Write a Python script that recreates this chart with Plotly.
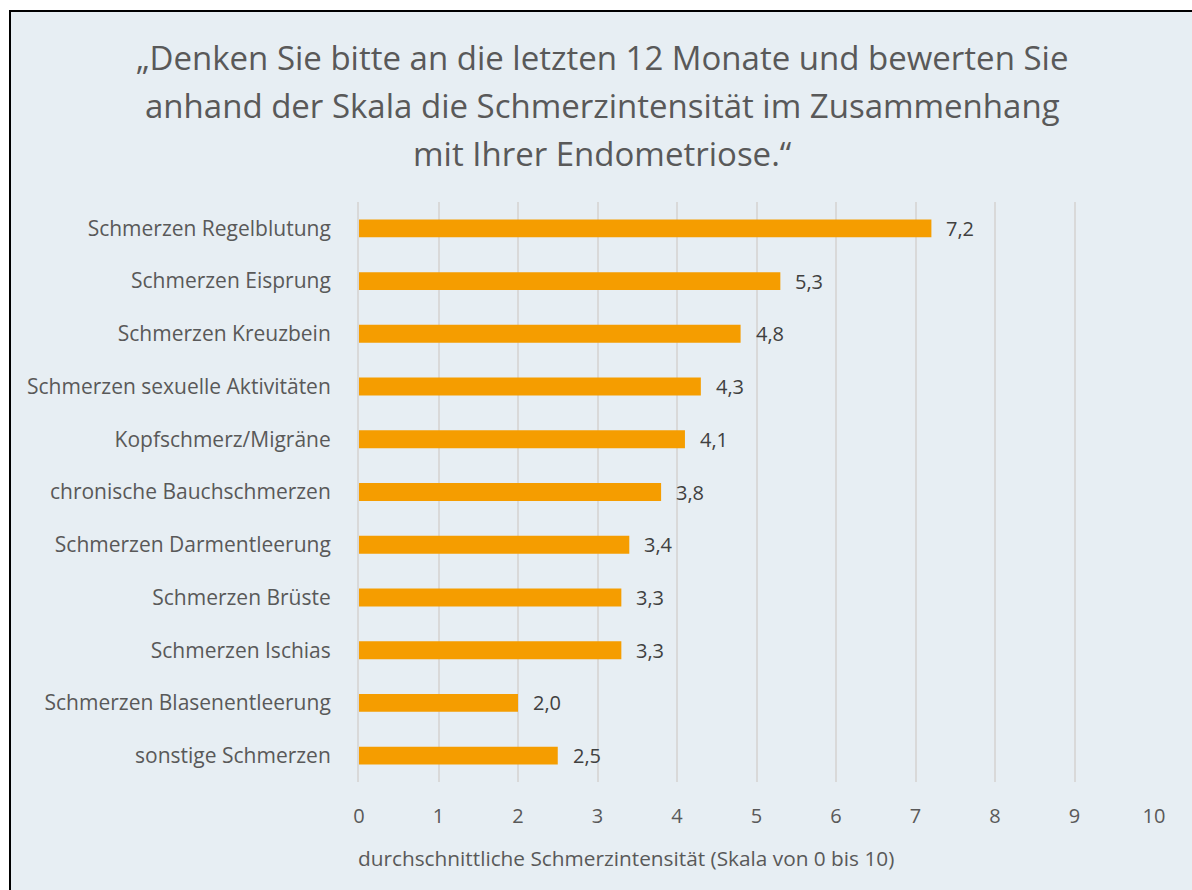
import plotly.graph_objects as go

# Pain categories (top to bottom) and mean intensity on a 0–10 scale
categories = [
    "Schmerzen Regelblutung",
    "Schmerzen Eisprung",
    "Schmerzen Kreuzbein",
    "Schmerzen sexuelle Aktivitäten",
    "Kopfschmerz/Migräne",
    "chronische Bauchschmerzen",
    "Schmerzen Darmentleerung",
    "Schmerzen Brüste",
    "Schmerzen Ischias",
    "Schmerzen Blasenentleerung",
    "sonstige Schmerzen",
]
values = [7.2, 5.3, 4.8, 4.3, 4.1, 3.8, 3.4, 3.3, 3.3, 2.0, 2.5]
x_ticks = [0, 1, 2, 3, 4, 5, 6, 7, 8, 9, 10]

title_lines = [
    "„Denken Sie bitte an die letzten 12 Monate und bewerten Sie",
    "anhand der Skala die Schmerzintensität im Zusammenhang",
    "mit Ihrer Endometriose.“",
]
x_title = "durchschnittliche Schmerzintensität (Skala von 0 bis 10)"

FONT = "Open Sans"
BG = "#E7EEF3"
BAR = "#F59D00"
TEXT = "#595959"

# Plot-area edges in pixels
L, R, T, B = 359, 1154, 202, 782
def px(xp):
    return (xp - L) / (R - L)
def py(yp):
    return (B - yp) / (B - T)

fig = go.Figure(
    go.Bar(
        x=values,
        y=categories,
        orientation="h",
        marker=dict(color=BAR, line=dict(width=0)),
        width=0.34,
        hoverinfo="skip",
    )
)

# Value labels to the right of each bar
for cat, val in zip(categories, values):
    fig.add_annotation(
        x=val, y=cat, xref="x", yref="y",
        text=f"{val:.1f}".replace(".", ","),
        showarrow=False, xanchor="left", xshift=13, yshift=0,
        font=dict(family=FONT, size=20, color="#404040"),
    )

# Three-line centred title
for i, line in enumerate(title_lines):
    fig.add_annotation(
        x=px(602), y=py(58 + i * 47.5), xref="paper", yref="paper",
        text=line, showarrow=False, xanchor="center", yanchor="middle",
        font=dict(family=FONT, size=33, color=TEXT),
    )

# Axis caption below the tick labels
fig.add_annotation(
    x=px(356), y=py(858), xref="paper", yref="paper",
    text=x_title, showarrow=False, xanchor="left", yanchor="middle",
    font=dict(family=FONT, size=20.8, color=TEXT),
)

# Framed chart area with black left/top border
fig.add_shape(
    type="rect", xref="paper", yref="paper", layer="below",
    x0=px(10), x1=px(1205), y0=py(11), y1=py(905),
    fillcolor=BG, line=dict(color="#000000", width=2),
)

fig.update_layout(
    width=1192, height=890,
    margin=dict(l=L, r=1192 - R, t=T, b=890 - B),
    paper_bgcolor="white",
    plot_bgcolor=BG,
    separators=",.",
    showlegend=False,
    xaxis=dict(
        range=[0, 10],
        tickvals=x_ticks,
        showgrid=True, gridcolor="#D9D9D9", gridwidth=2,
        zeroline=False, showline=False,
        ticks="", ticklabelstandoff=20,
        tickfont=dict(family=FONT, size=20, color=TEXT),
        fixedrange=True,
    ),
    yaxis=dict(
        categoryorder="array",
        categoryarray=categories[::-1],
        showgrid=False, zeroline=False,
        showline=True, linecolor="#D9D9D9", linewidth=2,
        ticks="", ticklabelstandoff=22,
        tickfont=dict(family=FONT, size=21, color=TEXT),
        fixedrange=True,
    ),
)

fig.write_html("out.html")
